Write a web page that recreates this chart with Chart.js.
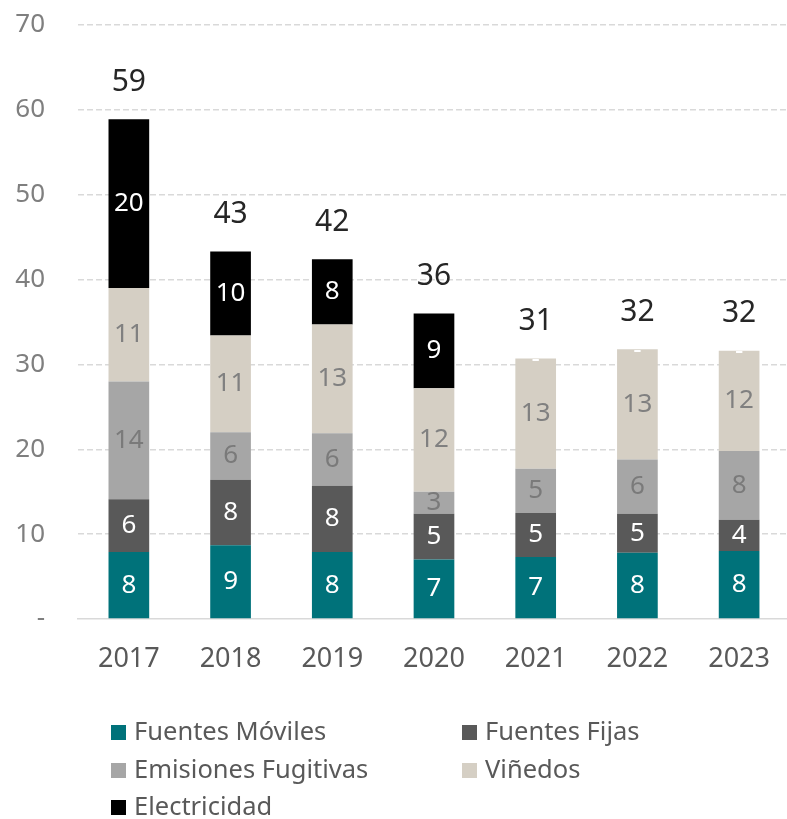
<!DOCTYPE html>
<html>
<head>
<meta charset="utf-8">
<script src="https://cdn.jsdelivr.net/npm/chart.js@4.4.1/dist/chart.umd.min.js"></script>
<style>
  html, body { margin: 0; padding: 0; background: #fff; overflow: hidden; }
  #wrap { position: relative; width: 794px; height: 819px; }
  #box { position: absolute; left: 0; top: 0; width: 794px; height: 690px; }
  #legend { position: absolute; left: 0; top: 0; width: 794px; height: 819px; pointer-events: none; }
  .item { position: absolute; font-family: "Noto Sans", sans-serif; font-size: 25.5px; color: #595959; line-height: 28px; white-space: nowrap; }
  .item span { display: inline-block; width: 15px; height: 15px; margin-right: 8px; vertical-align: 0px; }
</style>
</head>
<body>
<div id="wrap">
  <div id="box"><canvas id="emisionesChart"></canvas></div>
  <div id="legend"></div>
</div>
<script>
// datos
var anios = ['2017', '2018', '2019', '2020', '2021', '2022', '2023'];
var fuentesMoviles = [7.9, 8.7, 7.9, 7.0, 7.3, 7.8, 8.0];
var fuentesFijas = [6.2, 7.7, 7.8, 5.4, 5.2, 4.6, 3.7];
var emisionesFugitivas = [13.9, 5.6, 6.2, 2.6, 5.2, 6.4, 8.1];
var vinedos = [11.0, 11.4, 12.8, 12.2, 13.0, 13.0, 11.8];
var electricidad = [19.9, 9.9, 7.7, 8.8, 0, 0, 0];
var yTicks = [0, 10, 20, 30, 40, 50, 60, 70];

var FONT = '"Noto Sans", sans-serif';

var series = [
    { label: 'Fuentes Móviles', data: fuentesMoviles, color: '#00727a', text: '#ffffff' },
    { label: 'Fuentes Fijas', data: fuentesFijas, color: '#595959', text: '#ffffff' },
    { label: 'Emisiones Fugitivas', data: emisionesFugitivas, color: '#a6a6a6', text: '#7a7a7a' },
    { label: 'Viñedos', data: vinedos, color: '#d5cfc4', text: '#808080' },
    { label: 'Electricidad', data: electricidad, color: '#000000', text: '#ffffff' }
];

//- etiquetas dentro de las barras y totales -
var etiquetasPlugin = {
    id: 'etiquetas',
    afterDatasetsDraw: function(chart) {
        var ctx = chart.ctx;
        ctx.save();
        ctx.textAlign = 'center';
        ctx.textBaseline = 'middle';
        chart.data.datasets.forEach(function(ds, i) {
            var meta = chart.getDatasetMeta(i);
            meta.data.forEach(function(bar, j) {
                var v = ds.data[j];
                ctx.fillStyle = series[i].text;
                ctx.font = '26px ' + FONT;
                if (v === 0) {
                    ctx.fillText('-', bar.x, bar.y + 1);
                } else {
                    ctx.fillText(String(Math.round(v)), bar.x, (bar.y + bar.base) / 2);
                }
            });
        });
        var last = chart.getDatasetMeta(chart.data.datasets.length - 1);
        ctx.fillStyle = '#262626';
        ctx.font = '30px ' + FONT;
        anios.forEach(function(a, j) {
            var total = 0;
            chart.data.datasets.forEach(function(ds) { total += ds.data[j]; });
            var top = chart.scales.y.getPixelForValue(total);
            ctx.fillText(String(Math.round(total)), last.data[j].x, top - 37);
        });
        ctx.restore();
    }
};

var ctx = document.getElementById('emisionesChart').getContext('2d');
new Chart(ctx, {
    type: 'bar',
    data: {
        labels: anios,
        datasets: series.map(function(s) {
            return {
                label: s.label,
                data: s.data,
                backgroundColor: s.color,
                borderWidth: 0,
                categoryPercentage: 1,
                barPercentage: 0.4
            };
        })
    },
    options: {
        responsive: true,
        maintainAspectRatio: false,
        animation: false,
        layout: { padding: { top: 25, right: 0, left: 0, bottom: 0 } },
        plugins: {
            legend: { display: false },
            tooltip: { enabled: false }
        },
        scales: {
            x: {
                stacked: true,
                grid: { display: false, drawTicks: false },
                border: { display: true, color: '#d9d9d9', width: 1.5 },
                ticks: { color: '#595959', padding: 24, font: { family: FONT, size: 27 } },
                afterFit: function(scale) { scale.height = 71; }
            },
            y: {
                stacked: true,
                min: 0,
                max: 70,
                afterBuildTicks: function(scale) {
                    scale.ticks = yTicks.map(function(v) { return { value: v }; });
                },
                grid: {
                    color: function(c) { return c.tick.value === 0 ? 'rgba(0,0,0,0)' : '#d9d9d9'; },
                    lineWidth: 1.5,
                    drawTicks: true,
                    tickLength: 33,
                    tickColor: 'rgba(0,0,0,0)'
                },
                border: { display: false, dash: [6, 3] },
                ticks: {
                    color: '#7f7f7f',
                    padding: 0,
                    font: { family: FONT, size: 26 },
                    callback: function(v) { return v === 0 ? '-' : v; }
                },
                afterFit: function(scale) { scale.width = 78; }
            }
        }
    },
    plugins: [etiquetasPlugin]
});

//- leyenda en dos columnas -
var posiciones = [[111, 730], [462, 730], [111, 768], [462, 768], [111, 805]];
var legend = document.getElementById('legend');
series.forEach(function(s, i) {
    var d = document.createElement('div');
    d.className = 'item';
    d.style.left = posiciones[i][0] + 'px';
    d.style.top = (posiciones[i][1] - 14) + 'px';
    d.innerHTML = '<span style="background:' + s.color + '"></span>' + s.label;
    legend.appendChild(d);
});
</script>
</body>
</html>
